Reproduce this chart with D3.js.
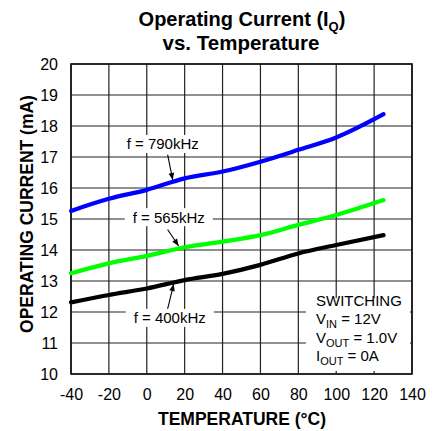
<!DOCTYPE html>
<html>
<head>
<meta charset="utf-8">
<script src="https://cdn.jsdelivr.net/npm/d3@7"></script>
<style>
  body { margin: 0; background: #fff; }
  text { font-family: "Liberation Sans", Arial, sans-serif; }
</style>
</head>
<body>
<svg id="chart" width="438" height="431"></svg>
<script>
// temperatures (°C) where the curves were read
const temps = [-40, -20, 0, 20, 40, 60, 80, 100, 125];
// operating current (mA) for each switching frequency
const f790 = [15.26, 15.65, 15.94, 16.31, 16.53, 16.85, 17.23, 17.63, 18.38];
const f565 = [13.25, 13.57, 13.81, 14.09, 14.27, 14.48, 14.81, 15.13, 15.61];
const f400 = [12.31, 12.55, 12.76, 13.03, 13.23, 13.52, 13.89, 14.16, 14.48];
const xTicks = [-40, -20, 0, 20, 40, 60, 80, 100, 120, 140];
const yTicks = [10, 11, 12, 13, 14, 15, 16, 17, 18, 19, 20];

const svg = d3.select("#chart");
const pLeft = 71, pRight = 412, pTop = 64, pBottom = 374;

const x = d3.scaleLinear().domain([-40, 140]).range([pLeft, pRight]);
const y = d3.scaleLinear().domain([10, 20]).range([pBottom, pTop]);

// arrow head
svg.append("defs").append("marker")
  .attr("id", "arr")
  .attr("viewBox", "0 0 10 10")
  .attr("refX", 10).attr("refY", 5)
  .attr("markerWidth", 8).attr("markerHeight", 7)
  .attr("markerUnits", "userSpaceOnUse")
  .attr("orient", "auto")
  .append("path").attr("d", "M0,1 L10,5 L0,9 Z").attr("fill", "#000");

// grid
const grid = svg.append("g").attr("stroke", "#222").attr("stroke-width", 1.2);
grid.selectAll(".vx").data(xTicks).enter().append("line")
  .attr("x1", d => x(d)).attr("x2", d => x(d))
  .attr("y1", pTop).attr("y2", pBottom);
grid.selectAll(".hy").data(yTicks).enter().append("line")
  .attr("x1", pLeft).attr("x2", pRight)
  .attr("y1", d => y(d)).attr("y2", d => y(d));
svg.append("rect")
  .attr("x", pLeft).attr("y", pTop)
  .attr("width", pRight - pLeft).attr("height", pBottom - pTop)
  .attr("fill", "none").attr("stroke", "#111").attr("stroke-width", 1.6);

// tick labels from d3 axes, axis lines removed
const xAxis = svg.append("g")
  .attr("transform", `translate(0,${pBottom})`)
  .call(d3.axisBottom(x).tickValues(xTicks).tickSize(0).tickPadding(16)
    .tickFormat(d => String(d)));
const yAxis = svg.append("g")
  .attr("transform", `translate(${pLeft},0)`)
  .call(d3.axisLeft(y).tickValues(yTicks).tickSize(0).tickPadding(13)
    .tickFormat(d => String(d)));
[xAxis, yAxis].forEach(a => {
  a.select(".domain").remove();
  a.selectAll("text")
    .attr("font-family", "Liberation Sans, Arial, sans-serif")
    .attr("font-size", 16).attr("fill", "#000");
});
xAxis.selectAll("text").attr("dy", "0.6em");

// curves
const line = d3.line()
  .x((d, i) => x(temps[i]))
  .y(d => y(d))
  .curve(d3.curveMonotoneX);

const series = [
  { vals: f790, color: "#0000ff" },
  { vals: f565, color: "#00ff00" },
  { vals: f400, color: "#000000" }
];
svg.selectAll(".curve").data(series).enter().append("path")
  .attr("d", d => line(d.vals))
  .attr("fill", "none")
  .attr("stroke", d => d.color)
  .attr("stroke-width", 4.2)
  .attr("stroke-linecap", "round");

// frequency labels with arrows
const labels = [
  { text: "f = 790kHz", tx: 8.4, ty: 17.42, from: [11.0, 17.08], to: [13.7, 16.26], w: 80 },
  { text: "f = 565kHz", tx: 11.6, ty: 15.06, from: [11.0, 14.66], to: [16.8, 14.13], w: 88 },
  { text: "f = 400kHz", tx: 12.1, ty: 11.81, from: [11.0, 12.1], to: [14.2, 12.9], w: 88 }
];
labels.forEach(l => {
  const cx = x(l.tx), cy = y(l.ty);
  svg.append("rect")
    .attr("x", cx - l.w / 2).attr("y", cy - 9)
    .attr("width", l.w).attr("height", 18)
    .attr("fill", "#fff");
  svg.append("text")
    .attr("x", cx).attr("y", cy + 5.5)
    .attr("text-anchor", "middle")
    .attr("font-size", 15)
    .text(l.text);
  svg.append("line")
    .attr("x1", x(l.from[0])).attr("y1", y(l.from[1]))
    .attr("x2", x(l.to[0])).attr("y2", y(l.to[1]))
    .attr("stroke", "#000").attr("stroke-width", 1.1)
    .attr("marker-end", "url(#arr)");
});

// conditions box
const box = svg.append("g");
const bx = x(84), by = y(12.45);
box.append("rect")
  .attr("x", bx).attr("y", by)
  .attr("width", pRight - 2 - bx).attr("height", pBottom - 3 - by)
  .attr("fill", "#fff");
const cond = [
  ["SWITCHING"],
  ["V", "IN", " = 12V"],
  ["V", "OUT", " = 1.0V"],
  ["I", "OUT", " = 0A"]
];
cond.forEach((c, i) => {
  const t = box.append("text")
    .attr("x", 316).attr("y", 306 + i * 18.3)
    .attr("font-size", 15);
  t.append("tspan").text(c[0]);
  if (c.length > 2) {
    t.append("tspan").attr("dy", 4).attr("font-size", 11).text(c[1]);
    t.append("tspan").attr("dy", -4).text(c[2]);
  }
});

// titles
const title = svg.append("text")
  .attr("x", 242).attr("y", 26)
  .attr("text-anchor", "middle")
  .attr("font-size", 20).attr("font-weight", "bold");
title.append("tspan").text("Operating Current (I");
title.append("tspan").attr("dy", 5).attr("font-size", 13).text("Q");
title.append("tspan").attr("dy", -5).text(")");
svg.append("text")
  .attr("x", 241).attr("y", 50)
  .attr("text-anchor", "middle")
  .attr("font-size", 20.5).attr("font-weight", "bold")
  .text("vs. Temperature");

svg.append("text")
  .attr("x", 242).attr("y", 425)
  .attr("text-anchor", "middle")
  .attr("font-size", 17.5).attr("font-weight", "bold")
  .text("TEMPERATURE (°C)");

svg.append("text")
  .attr("transform", "translate(33,214) rotate(-90)")
  .attr("text-anchor", "middle")
  .attr("font-size", 17.5).attr("font-weight", "bold")
  .text("OPERATING CURRENT (mA)");
</script>
</body>
</html>
